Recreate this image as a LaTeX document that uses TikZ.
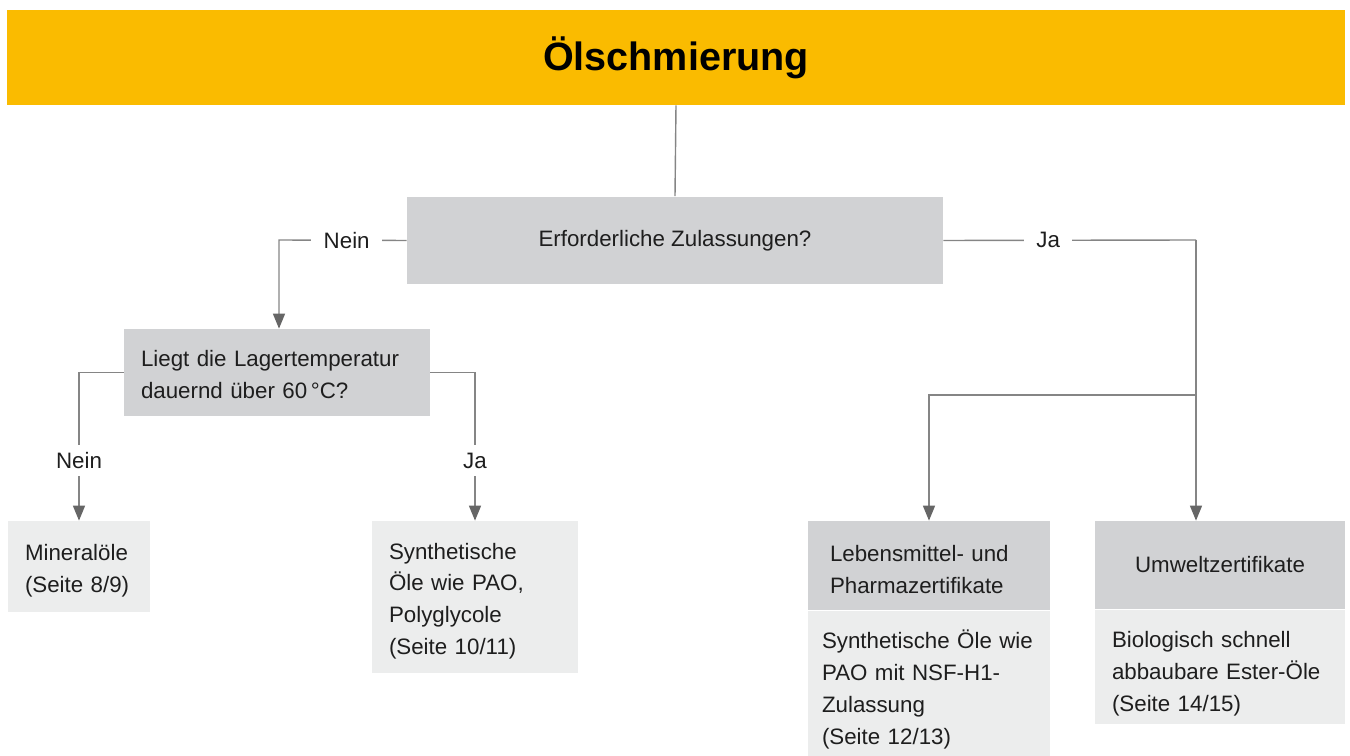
\documentclass[tikz,border=0pt]{standalone}
\usepackage{fontspec}
\setmainfont{Liberation Sans}
\usetikzlibrary{arrows.meta}
\definecolor{titleor}{HTML}{FABB00}
\definecolor{boxdark}{HTML}{D1D2D4}
\definecolor{boxlight}{HTML}{ECEDED}
\definecolor{linegray}{HTML}{858585}
\definecolor{tipgray}{HTML}{666666}
\definecolor{txt}{HTML}{1E1E1E}
\newcommand\topstr[1]{\rule{0pt}{#1}}
\begin{document}
\begin{tikzpicture}[x=0.02cm,y=-0.02cm,
  every node/.style={text=txt,font=\fontsize{12.7pt}{18.2pt}\selectfont},
  darkbox/.style={fill=boxdark,draw=none,rectangle,inner ysep=0pt},
  lightbox/.style={fill=boxlight,draw=none,rectangle,inner ysep=0pt},
  conn/.style={draw=linegray,line width=0.8pt},
  arrowline/.style={conn,-{Triangle[width=0.24cm,length=0.3cm,fill=tipgray,color=tipgray]}},
  lbl/.style={fill=white,inner xsep=0.25cm,inner ysep=0.15cm}]
\useasboundingbox (0,0) rectangle (1350,756);
% title
\node[fill=titleor,minimum width=26.76cm,minimum height=1.9cm,inner sep=0pt,
  font=\fontsize{22.5pt}{27pt}\selectfont\bfseries,text=black] (title) at (676,57.5) {Ölschmierung};
% question 1
\node[darkbox,minimum width=10.72cm,minimum height=1.76cm] (q1) at (675,240.5) {Erforderliche Zulassungen?};
% question 2
\node[darkbox,minimum height=1.74cm,text width=5.44cm,inner xsep=0.34cm,align=left] (q2) at (277,372.5)
  {\mbox{\topstr{11.5pt}Liegt die Lagertemperatur}\\\mbox{dauernd über 60\,°C?}};
% results
\node[lightbox,minimum height=1.82cm,text width=2.16cm,inner xsep=0.34cm,align=left] (m) at (79,566.5)
  {\mbox{\topstr{14pt}Mineralöle}\\\mbox{(Seite 8/9)}};
\node[lightbox,minimum height=3.04cm,text width=3.44cm,inner xsep=0.34cm,align=left] (s) at (475,597)
  {\mbox{\topstr{14pt}Synthetische}\\\mbox{Öle wie PAO,}\\\mbox{Polyglycole}\\\mbox{(Seite 10/11)}};
\node[darkbox,minimum height=1.78cm,text width=3.96cm,inner xsep=0.44cm,align=left] (lh) at (929,565.5)
  {\mbox{\topstr{14pt}Lebensmittel- und}\\\mbox{Pharmazertifikate}};
\node[lightbox,anchor=north,minimum height=2.92cm,text width=4.28cm,inner xsep=0.28cm,align=left] (lb) at (lh.south)
  {\mbox{\topstr{17.5pt}Synthetische Öle wie}\\\mbox{PAO mit NSF-H1-}\\\mbox{Zulassung}\\\mbox{(Seite 12/13)}};
\node[darkbox,minimum height=1.76cm,minimum width=5.0cm] (uh) at (1220,565) {Umweltzertifikate};
\node[lightbox,anchor=north,minimum height=2.28cm,text width=4.32cm,inner xsep=0.34cm,align=left] (ub) at (uh.south)
  {\mbox{\topstr{17.3pt}Biologisch schnell}\\\mbox{abbaubare Ester-Öle}\\\mbox{(Seite 14/15)}};
% connectors
\draw[conn] (title.south) -- (q1.north);
\coordinate (nl) at (279,240);
\draw[arrowline] (q1.west) -- node[lbl,pos=0.47]{Nein} (nl) -- (q2.north -| nl);
\coordinate (jr) at (1196,240);
\draw[conn] (q1.east) -- node[lbl,pos=0.415]{Ja} (jr);
\draw[arrowline] (jr) -- (uh.north -| jr);
\coordinate (br) at (1196,395);
\draw[arrowline] (br) -| (lh.north);
\draw[arrowline] (q2.west) -- (q2.west -| m.north) -- node[lbl,pos=0.595]{Nein} (m.north);
\draw[arrowline] (q2.east) -- (q2.east -| s.north) -- node[lbl,pos=0.595]{Ja} (s.north);
\end{tikzpicture}
\end{document}
